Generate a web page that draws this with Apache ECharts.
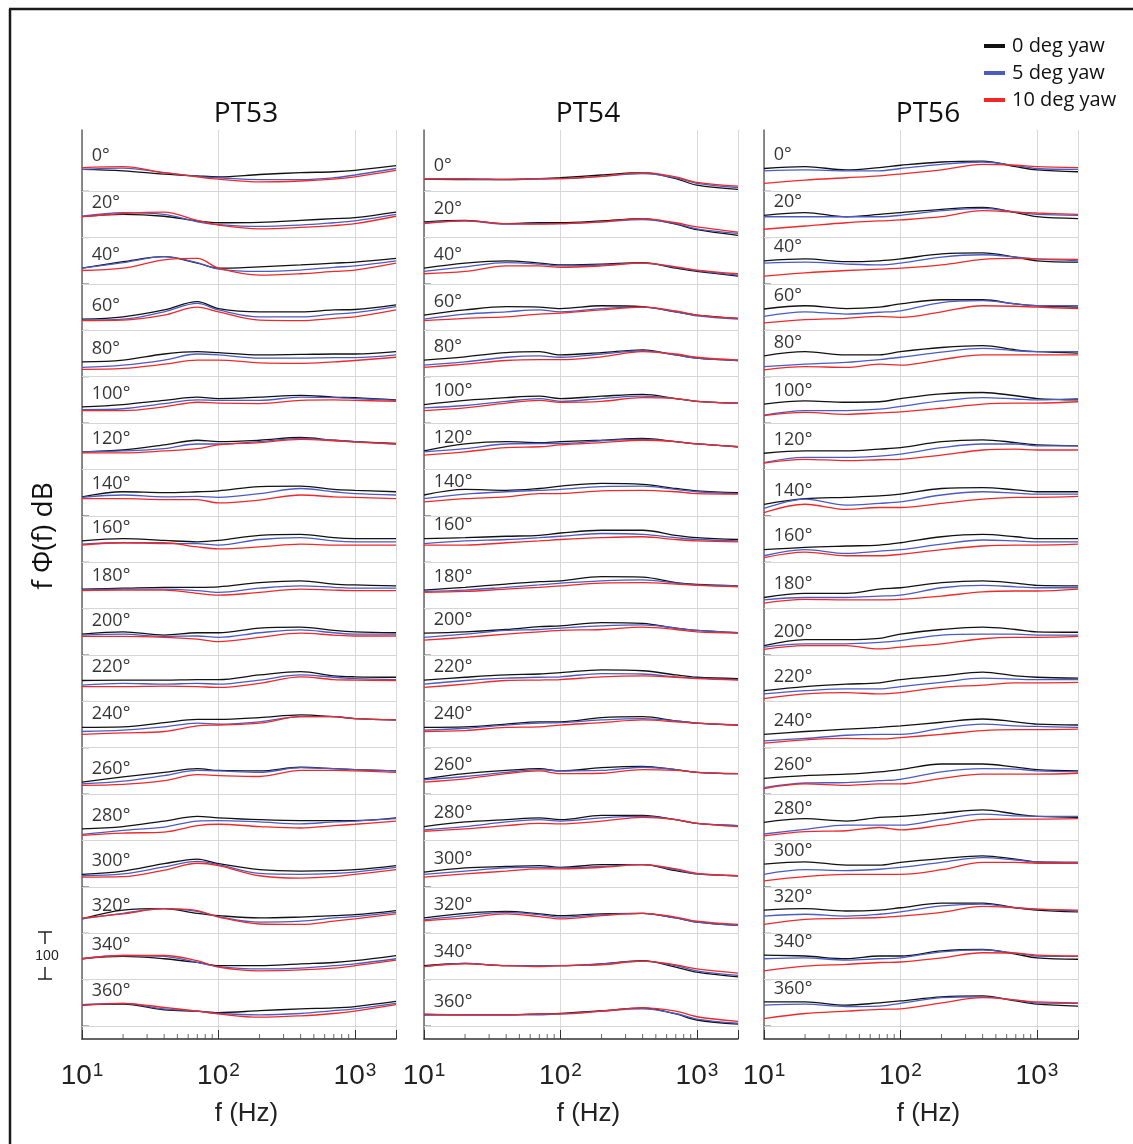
<!DOCTYPE html>
<html>
<head>
<meta charset="utf-8">
<script src="https://cdn.jsdelivr.net/npm/echarts@6/dist/echarts.min.js"></script>
<style>
  html, body { margin: 0; padding: 0; background: #fff; }
  #chart { width: 1133px; height: 1144px; }
</style>
</head>
<body>
<div id="chart"></div>
<script>
// frequency points (Hz) where each spectrum is read
var freqs = [10, 20, 40, 70, 100, 200, 400, 700, 1000, 2000];
// transducer angle of each row, top to bottom
var angles = [0, 20, 40, 60, 80, 100, 120, 140, 160, 180, 200, 220, 240, 260, 280, 300, 320, 340, 360];
var panels = ['PT53', 'PT54', 'PT56'];
var yawNames = ['0 deg yaw', '5 deg yaw', '10 deg yaw'];
var decadeTicks = [10, 100, 1000];
var minorTicks = [20, 30, 40, 50, 60, 70, 80, 90, 200, 300, 400, 500, 600, 700, 800, 900];

// dB above each row's grid line, one row per angle
var pt53_yaw0 = [
  [4.7, 4.4, 3.7, 3.3, 3.1, 3.6, 4.0, 4.2, 4.5, 5.5],
  [4.5, 5.0, 4.6, 3.6, 3.2, 3.3, 3.7, 4.1, 4.3, 5.5],
  [3.4, 4.8, 5.9, 4.5, 3.4, 3.7, 4.1, 4.5, 4.7, 5.5],
  [2.4, 2.9, 4.4, 6.2, 4.7, 4.0, 4.0, 4.4, 4.5, 5.5],
  [3.2, 3.6, 4.9, 5.4, 5.2, 4.7, 4.8, 4.9, 4.9, 5.4],
  [3.5, 4.0, 4.9, 5.6, 5.3, 5.6, 6.0, 5.6, 5.5, 5.0],
  [3.8, 4.2, 5.3, 6.3, 6.0, 6.3, 6.9, 6.3, 6.0, 5.6],
  [4.1, 5.2, 5.0, 5.2, 5.4, 6.3, 6.4, 5.7, 5.5, 5.2],
  [4.6, 5.1, 4.7, 4.4, 4.7, 5.8, 6.0, 5.3, 5.1, 5.1],
  [4.2, 4.4, 4.6, 4.6, 4.7, 5.6, 6.0, 5.3, 5.1, 4.9],
  [4.5, 5.0, 4.3, 4.8, 4.8, 5.8, 6.0, 5.3, 5.0, 4.8],
  [4.5, 4.6, 4.6, 4.7, 4.7, 5.7, 6.4, 5.5, 5.3, 5.2],
  [4.4, 4.5, 5.4, 6.1, 6.1, 6.5, 7.1, 6.7, 6.3, 6.0],
  [2.6, 3.7, 4.7, 5.5, 5.1, 5.0, 5.8, 5.5, 5.3, 5.0],
  [2.5, 3.0, 4.2, 5.2, 4.9, 4.5, 4.3, 4.3, 4.3, 4.9],
  [2.7, 3.4, 5.0, 6.0, 5.0, 3.7, 3.4, 3.5, 3.7, 4.6],
  [3.1, 5.0, 5.3, 4.3, 3.8, 3.3, 3.5, 3.8, 4.0, 4.9],
  [4.5, 5.0, 4.5, 3.7, 3.0, 3.0, 3.4, 3.7, 4.1, 5.2],
  [4.6, 4.7, 3.5, 3.2, 2.9, 3.3, 3.7, 3.9, 4.2, 5.3]
];
var pt53_yaw5 = [
  [4.7, 5.0, 4.0, 3.2, 2.9, 2.5, 2.5, 2.9, 3.5, 4.9],
  [4.6, 5.4, 5.0, 3.4, 2.8, 2.4, 2.7, 3.2, 3.6, 5.0],
  [3.4, 4.6, 5.9, 4.6, 3.2, 2.7, 3.0, 3.6, 3.9, 5.0],
  [2.2, 2.4, 4.0, 5.8, 4.4, 2.9, 2.9, 3.5, 3.8, 5.1],
  [2.0, 2.5, 3.6, 4.9, 4.7, 4.0, 4.0, 4.1, 4.1, 4.7],
  [2.9, 3.1, 4.2, 5.0, 4.9, 4.9, 5.6, 5.5, 5.3, 4.9],
  [3.8, 4.0, 4.5, 5.5, 5.5, 6.0, 6.7, 6.3, 6.0, 5.5],
  [4.0, 4.5, 4.1, 4.2, 4.0, 4.8, 5.9, 5.2, 4.8, 4.5],
  [3.9, 4.2, 4.0, 4.0, 3.7, 4.9, 5.3, 4.6, 4.4, 4.4],
  [4.0, 4.2, 4.2, 3.9, 3.5, 4.4, 4.9, 4.6, 4.4, 4.4],
  [4.3, 4.5, 4.0, 4.1, 3.8, 4.8, 5.4, 4.8, 4.5, 4.5],
  [3.5, 3.9, 3.7, 3.9, 3.7, 4.6, 5.7, 5.2, 4.9, 4.7],
  [3.5, 3.8, 4.5, 5.3, 5.1, 5.6, 6.7, 6.7, 6.3, 6.0],
  [2.2, 2.8, 4.0, 5.1, 5.0, 4.7, 5.7, 5.5, 5.3, 5.0],
  [1.3, 2.2, 2.9, 4.2, 4.3, 4.0, 3.6, 4.0, 4.2, 4.7],
  [2.4, 2.8, 4.3, 5.5, 4.8, 2.9, 2.7, 2.9, 3.2, 4.2],
  [3.1, 4.3, 5.3, 4.7, 3.6, 2.4, 2.6, 3.3, 3.6, 4.5],
  [4.5, 5.2, 5.0, 3.7, 2.8, 2.3, 2.5, 3.0, 3.4, 4.5],
  [4.6, 4.9, 3.7, 3.2, 2.7, 2.4, 2.7, 3.3, 3.7, 4.9]
];
var pt53_yaw10 = [
  [5.1, 5.3, 4.0, 3.1, 2.6, 2.0, 2.2, 2.6, 3.1, 4.5],
  [4.5, 5.2, 5.5, 3.7, 2.7, 1.9, 2.2, 2.6, 3.0, 4.6],
  [2.9, 3.4, 5.2, 5.5, 3.4, 1.9, 2.2, 2.7, 3.0, 4.5],
  [2.1, 2.2, 3.3, 5.0, 4.0, 2.2, 2.1, 2.6, 2.9, 4.4],
  [1.6, 1.8, 2.7, 3.6, 3.6, 3.0, 2.9, 3.2, 3.5, 4.2],
  [2.7, 2.7, 3.5, 4.5, 4.3, 4.2, 4.9, 5.0, 4.9, 4.7],
  [3.6, 3.6, 4.0, 4.5, 5.3, 5.8, 6.5, 6.2, 5.9, 5.5],
  [3.7, 3.7, 3.5, 3.5, 2.8, 3.4, 4.5, 4.1, 4.0, 3.7],
  [3.7, 4.2, 4.2, 3.3, 2.9, 3.3, 3.9, 3.7, 3.7, 3.7],
  [3.9, 4.0, 4.0, 3.3, 2.9, 3.5, 4.2, 4.0, 3.9, 3.9],
  [4.0, 4.0, 3.8, 3.4, 2.9, 3.8, 4.7, 4.3, 4.1, 4.1],
  [3.2, 3.2, 3.3, 3.2, 3.0, 3.9, 5.3, 4.7, 4.6, 4.5],
  [2.9, 3.2, 3.5, 4.7, 4.9, 5.3, 6.7, 6.7, 6.3, 6.0],
  [1.9, 2.1, 2.9, 4.2, 4.0, 3.8, 5.1, 5.1, 5.0, 4.7],
  [1.1, 1.6, 1.8, 3.2, 3.5, 3.0, 2.7, 3.2, 3.5, 4.2],
  [2.1, 2.2, 3.6, 5.1, 4.6, 2.4, 1.9, 2.2, 2.7, 3.7],
  [3.3, 4.2, 5.3, 4.9, 3.5, 2.0, 1.9, 2.6, 3.1, 4.2],
  [4.5, 5.2, 5.2, 4.1, 2.7, 1.9, 2.1, 2.5, 3.0, 4.2],
  [4.4, 4.9, 4.0, 3.2, 2.6, 1.9, 2.2, 2.7, 3.2, 4.6]
];
var pt54_yaw0 = [
  [2.6, 2.5, 2.5, 2.7, 2.9, 3.5, 4.0, 2.7, 1.3, 0.4],
  [3.4, 3.7, 3.0, 3.2, 3.2, 3.6, 4.1, 2.9, 1.7, 0.5],
  [3.4, 4.5, 5.0, 4.5, 4.1, 4.3, 4.6, 3.4, 2.7, 1.7],
  [3.3, 4.4, 5.1, 5.0, 4.7, 5.3, 5.1, 4.0, 3.3, 2.6],
  [3.6, 4.3, 5.2, 5.4, 4.7, 5.2, 5.8, 4.7, 4.0, 3.5],
  [4.0, 4.9, 5.5, 5.8, 5.3, 5.8, 6.2, 5.3, 4.7, 4.3],
  [4.0, 5.5, 6.0, 5.8, 6.0, 6.3, 6.7, 6.0, 5.5, 4.9],
  [4.5, 5.7, 5.5, 5.9, 6.4, 7.0, 6.8, 5.9, 5.4, 5.0],
  [5.1, 5.3, 5.6, 5.8, 6.3, 6.9, 6.9, 5.8, 5.3, 4.9],
  [4.0, 4.6, 5.3, 5.8, 6.0, 6.9, 6.8, 5.6, 5.2, 4.9],
  [4.7, 5.0, 5.5, 6.1, 6.3, 7.0, 6.8, 5.8, 5.3, 4.8],
  [4.6, 5.2, 5.7, 5.9, 6.2, 6.8, 6.6, 5.7, 5.2, 4.9],
  [4.4, 4.5, 5.1, 5.6, 5.6, 6.5, 6.7, 5.8, 5.3, 4.9],
  [3.3, 4.4, 5.1, 5.5, 5.0, 5.7, 6.0, 5.3, 4.7, 4.4],
  [3.0, 4.0, 4.5, 4.9, 4.5, 5.4, 5.4, 4.5, 3.7, 3.2],
  [3.2, 4.1, 4.4, 4.6, 4.2, 4.8, 4.8, 3.5, 2.8, 2.4],
  [3.3, 4.3, 4.7, 4.2, 3.8, 4.2, 4.3, 3.3, 2.4, 1.7],
  [3.0, 3.5, 3.0, 3.0, 3.0, 3.4, 4.1, 2.7, 1.6, 0.6],
  [2.4, 2.4, 2.4, 2.6, 2.7, 3.3, 3.9, 2.6, 1.3, 0.4]
];
var pt54_yaw5 = [
  [2.6, 2.6, 2.5, 2.7, 2.7, 3.2, 3.8, 2.9, 1.7, 0.8],
  [3.2, 3.6, 2.9, 3.0, 3.0, 3.4, 3.9, 3.0, 1.9, 0.9],
  [2.7, 3.7, 4.6, 4.3, 3.9, 4.1, 4.5, 3.6, 2.9, 1.9],
  [2.4, 3.5, 4.0, 4.4, 4.0, 4.7, 5.0, 4.0, 3.1, 2.4],
  [2.5, 3.2, 4.2, 4.5, 4.2, 4.9, 5.6, 4.7, 4.0, 3.5],
  [3.3, 3.8, 4.7, 5.3, 4.7, 5.3, 5.8, 5.3, 4.7, 4.3],
  [3.8, 4.5, 5.5, 5.6, 5.6, 6.2, 6.5, 6.0, 5.5, 4.9],
  [3.7, 4.7, 5.2, 5.5, 5.7, 6.3, 6.4, 5.7, 5.2, 4.8],
  [4.0, 4.6, 4.9, 5.3, 5.6, 6.2, 6.0, 5.3, 4.9, 4.6],
  [3.7, 4.0, 4.6, 5.1, 5.5, 6.0, 6.2, 5.5, 5.1, 4.9],
  [3.8, 4.5, 5.3, 5.5, 5.8, 6.3, 6.5, 5.8, 5.3, 4.8],
  [3.7, 4.5, 5.0, 5.2, 5.3, 6.0, 5.9, 5.3, 5.0, 4.7],
  [3.8, 4.2, 4.9, 5.3, 5.4, 6.0, 6.3, 5.8, 5.3, 4.9],
  [3.1, 3.8, 4.7, 5.3, 5.0, 5.1, 5.8, 5.3, 4.7, 4.4],
  [2.3, 3.0, 4.0, 4.5, 4.2, 4.9, 5.2, 4.5, 3.7, 3.2],
  [2.7, 3.4, 4.1, 4.2, 4.1, 4.4, 4.8, 3.7, 2.8, 2.4],
  [2.9, 3.8, 4.5, 4.0, 3.5, 4.0, 4.3, 3.3, 2.4, 1.7],
  [2.8, 3.5, 3.0, 3.0, 3.0, 3.4, 4.0, 3.0, 1.9, 0.9],
  [2.4, 2.4, 2.4, 2.4, 2.6, 3.2, 3.7, 2.7, 1.5, 0.6]
];
var pt54_yaw10 = [
  [2.7, 2.7, 2.6, 2.6, 2.7, 3.2, 4.0, 3.1, 1.9, 1.1],
  [3.0, 3.6, 3.0, 2.9, 3.0, 3.4, 4.1, 3.2, 2.3, 1.2],
  [2.2, 2.7, 3.9, 3.9, 3.6, 3.9, 4.5, 3.7, 3.0, 2.2],
  [2.1, 2.6, 2.9, 3.5, 3.7, 4.4, 5.0, 4.2, 3.3, 2.6],
  [2.0, 2.7, 3.5, 3.7, 3.7, 4.3, 5.4, 4.9, 4.2, 3.6],
  [2.7, 3.3, 4.3, 4.9, 4.5, 4.7, 5.5, 5.3, 4.7, 4.3],
  [3.1, 3.8, 4.7, 4.9, 5.3, 5.8, 6.3, 6.0, 5.5, 4.9],
  [3.0, 3.7, 4.1, 4.8, 4.8, 5.4, 5.5, 5.2, 4.8, 4.7],
  [3.7, 3.7, 4.2, 4.6, 4.9, 5.3, 5.5, 4.9, 4.6, 4.4],
  [3.5, 3.7, 4.2, 4.6, 4.9, 5.5, 5.6, 5.3, 5.0, 4.7],
  [3.2, 3.8, 4.5, 5.0, 5.3, 5.5, 6.0, 5.5, 5.0, 4.7],
  [3.0, 3.7, 4.5, 4.6, 4.7, 5.3, 5.5, 5.2, 4.9, 4.6],
  [3.5, 3.7, 4.4, 4.5, 4.9, 5.4, 6.0, 5.6, 5.3, 4.9],
  [2.6, 3.3, 4.4, 5.0, 4.4, 4.5, 5.3, 5.1, 4.7, 4.4],
  [2.0, 2.5, 3.2, 3.7, 3.6, 4.2, 5.0, 4.5, 3.7, 3.0],
  [2.1, 2.8, 3.4, 3.9, 3.9, 4.2, 4.8, 3.9, 2.9, 2.4],
  [2.7, 3.3, 4.2, 3.6, 3.1, 3.8, 4.3, 3.5, 2.6, 1.9],
  [2.8, 3.4, 3.0, 2.8, 3.0, 3.2, 4.0, 3.2, 2.3, 1.4],
  [2.6, 2.4, 2.4, 2.6, 2.6, 3.2, 3.9, 3.2, 2.0, 1.0]
];
var pt56_yaw0 = [
  [4.9, 5.3, 4.6, 5.1, 5.6, 6.3, 6.5, 5.3, 4.6, 4.2],
  [4.8, 5.4, 4.5, 5.0, 5.4, 6.1, 6.5, 5.4, 4.5, 4.1],
  [5.0, 5.4, 4.8, 5.0, 5.4, 6.5, 6.7, 5.8, 5.0, 4.7],
  [4.6, 5.3, 4.7, 5.0, 5.7, 6.6, 6.6, 5.7, 5.3, 5.0],
  [4.5, 5.4, 4.7, 4.7, 5.4, 6.3, 6.7, 5.8, 5.4, 5.1],
  [4.1, 4.8, 4.5, 4.6, 5.3, 6.3, 6.6, 5.9, 5.3, 5.0],
  [3.5, 4.0, 4.0, 4.4, 4.7, 6.0, 6.4, 5.8, 5.3, 5.1],
  [2.5, 3.7, 4.0, 4.3, 4.7, 5.9, 6.1, 5.6, 5.2, 5.2],
  [2.7, 3.2, 3.5, 3.7, 4.2, 5.5, 6.0, 5.5, 5.1, 5.1],
  [2.4, 3.3, 3.3, 4.2, 4.5, 5.6, 6.0, 5.5, 5.0, 4.9],
  [2.0, 3.3, 3.3, 3.6, 4.5, 5.5, 6.0, 5.5, 5.0, 4.9],
  [2.3, 3.2, 3.7, 4.0, 4.7, 5.5, 6.3, 5.5, 5.2, 5.0],
  [2.9, 3.5, 4.0, 4.4, 4.7, 5.5, 6.2, 5.6, 5.1, 4.9],
  [3.4, 4.0, 4.3, 4.8, 5.3, 6.5, 6.5, 5.8, 5.3, 5.0],
  [3.9, 4.7, 4.2, 5.0, 5.2, 5.9, 6.6, 5.7, 5.2, 5.0],
  [4.9, 5.4, 4.7, 4.7, 5.3, 6.1, 6.7, 6.0, 5.4, 5.3],
  [5.0, 5.3, 4.8, 5.0, 5.5, 6.5, 6.5, 5.5, 5.0, 4.6],
  [5.3, 5.1, 4.5, 5.1, 5.1, 6.2, 6.5, 5.5, 4.7, 4.4],
  [5.2, 5.2, 4.5, 5.0, 5.4, 6.3, 6.5, 5.4, 4.7, 4.3]
];
var pt56_yaw5 = [
  [4.4, 4.6, 4.4, 4.4, 4.9, 5.8, 6.3, 5.5, 4.9, 4.7],
  [4.5, 4.5, 4.5, 4.5, 4.8, 5.8, 6.3, 5.5, 5.0, 4.8],
  [4.5, 4.7, 4.3, 4.1, 4.5, 5.8, 6.3, 5.8, 5.4, 5.0],
  [3.0, 4.0, 3.5, 3.9, 4.2, 6.0, 6.4, 5.7, 5.3, 5.3],
  [2.2, 2.7, 3.1, 3.7, 4.2, 5.3, 6.1, 5.6, 5.4, 5.4],
  [1.7, 2.7, 2.7, 3.0, 3.6, 4.8, 5.5, 5.2, 5.0, 5.3],
  [1.5, 2.6, 2.6, 2.9, 3.3, 4.7, 5.5, 5.5, 5.1, 5.1],
  [1.6, 3.6, 2.3, 2.7, 3.0, 4.5, 5.2, 4.9, 4.7, 4.7],
  [1.4, 2.7, 1.9, 2.4, 2.7, 3.9, 4.8, 4.6, 4.4, 4.4],
  [1.9, 2.4, 2.4, 2.7, 2.9, 4.5, 5.0, 4.7, 4.5, 4.5],
  [1.7, 2.4, 2.4, 2.7, 3.1, 4.3, 4.5, 4.5, 4.3, 4.3],
  [1.6, 2.3, 2.7, 2.7, 3.2, 4.1, 5.0, 4.8, 4.7, 4.7],
  [1.5, 2.0, 2.7, 2.9, 2.9, 4.2, 5.1, 4.7, 4.6, 4.4],
  [1.4, 2.4, 2.5, 2.9, 3.2, 4.8, 5.5, 5.4, 5.0, 4.8],
  [1.4, 2.4, 3.3, 3.3, 3.3, 4.6, 5.7, 5.3, 5.2, 5.2],
  [2.7, 3.7, 3.5, 3.8, 4.2, 5.3, 6.3, 5.8, 5.4, 5.3],
  [3.7, 4.1, 3.7, 4.1, 4.6, 5.9, 6.3, 5.5, 5.2, 4.8],
  [4.5, 4.7, 4.2, 4.5, 4.7, 6.0, 6.4, 5.7, 5.1, 5.0],
  [4.5, 4.7, 4.2, 4.3, 4.9, 6.1, 6.3, 5.6, 5.0, 4.9]
];
var pt56_yaw10 = [
  [1.7, 2.4, 2.9, 3.3, 3.7, 4.6, 5.8, 5.6, 5.3, 5.1],
  [1.8, 2.5, 3.2, 3.6, 3.8, 4.5, 5.8, 5.5, 5.3, 5.0],
  [1.7, 2.4, 2.9, 3.2, 3.4, 4.1, 5.3, 5.5, 5.4, 5.3],
  [1.6, 2.3, 2.6, 3.0, 2.8, 4.0, 5.3, 5.2, 5.0, 4.7],
  [1.5, 2.2, 2.0, 2.7, 2.5, 3.7, 4.7, 4.7, 4.7, 4.7],
  [1.6, 2.3, 1.9, 2.2, 2.4, 3.2, 4.1, 4.3, 4.3, 4.6],
  [1.4, 2.2, 1.9, 2.1, 2.2, 3.1, 4.2, 4.4, 4.2, 4.2],
  [0.7, 2.5, 1.4, 1.8, 1.8, 2.7, 3.6, 4.0, 4.0, 4.2],
  [1.0, 2.2, 1.4, 1.4, 1.7, 2.7, 3.5, 3.7, 3.7, 3.9],
  [1.2, 2.0, 1.9, 1.9, 2.0, 2.7, 3.6, 3.8, 3.8, 4.2],
  [1.2, 2.0, 2.0, 1.3, 1.7, 2.4, 3.5, 3.8, 3.8, 4.0],
  [0.6, 1.6, 1.9, 1.6, 1.9, 3.0, 3.5, 4.0, 4.0, 4.1],
  [1.0, 1.7, 2.0, 1.9, 2.2, 2.9, 3.7, 3.9, 3.9, 4.0],
  [1.2, 2.2, 1.9, 2.2, 2.2, 3.4, 4.3, 4.3, 4.3, 4.5],
  [1.0, 1.9, 2.1, 2.8, 2.3, 3.3, 4.5, 4.6, 4.6, 4.7],
  [1.3, 2.2, 2.7, 2.7, 2.7, 3.7, 5.3, 5.3, 5.1, 5.1],
  [1.9, 3.0, 3.2, 3.4, 3.7, 4.5, 5.8, 5.5, 5.2, 5.0],
  [1.9, 2.9, 3.3, 3.7, 3.8, 4.7, 5.8, 5.7, 5.3, 5.1],
  [1.6, 2.7, 3.2, 3.6, 3.7, 5.0, 6.1, 5.6, 5.2, 5.0]
];

var panelData = [
  [pt53_yaw0, pt53_yaw5, pt53_yaw10],
  [pt54_yaw0, pt54_yaw5, pt54_yaw10],
  [pt56_yaw0, pt56_yaw5, pt56_yaw10]
];
var yawColors = ['#111111', '#4a5bc4', '#f0282a'];

var ROW_STEP = 10;          // dB between stacked rows
var Y_MIN = -2.8, Y_MAX = 193.2;
var LABEL_F = 11.5;         // where the angle labels start
var gridLefts = [82, 424, 764];

function base(k) { return (angles.length - 1 - k) * ROW_STEP; }

var myChart = echarts.init(document.getElementById('chart'));

var grids = [], xAxes = [], yAxes = [], titles = [], series = [];

panels.forEach(function (p, pi) {
  grids.push({ left: gridLefts[pi], width: 314, top: 130, bottom: 105 });
  titles.push({
    text: p, left: gridLefts[pi] + 159, top: 95, textAlign: 'center',
    textStyle: { fontFamily: 'Open Sans', fontSize: 28, fontWeight: 'normal', color: '#111' }
  });
  xAxes.push({
    type: 'log', logBase: 10, min: 10, max: 2000, gridIndex: pi,
    name: 'f (Hz)', nameLocation: 'middle', nameGap: 62,
    nameTextStyle: { fontFamily: 'Liberation Sans', fontSize: 26, color: '#222', padding: [0, 0, 0, 15] },
    axisLine: { onZero: false, lineStyle: { color: '#333', width: 1.5 } },
    axisTick: { inside: true, length: 9, lineStyle: { color: '#333' } },
    splitLine: { show: true, lineStyle: { color: '#d9d9d9', width: 1 } },
    axisLabel: {
      margin: 22, color: '#222',
      formatter: function (v) {
        if (decadeTicks.indexOf(Math.round(v)) < 0) return '';
        return '{b|10}{s|' + Math.round(Math.log10(v)) + '}';
      },
      rich: {
        b: { fontFamily: 'Liberation Sans', fontSize: 28, color: '#222', lineHeight: 30 },
        s: { fontFamily: 'Liberation Sans', fontSize: 19, color: '#222', verticalAlign: 'top', padding: [0, 0, 0, 1] }
      }
    }
  });
  yAxes.push({
    type: 'value', min: Y_MIN, max: Y_MAX, gridIndex: pi,
    axisLine: { show: true, onZero: false, lineStyle: { color: '#666', width: 1.5 } },
    axisTick: { show: false }, axisLabel: { show: false }, splitLine: { show: false }
  });

  // grid lines under every row + small axis ticks
  var tickData = minorTicks.map(function (f) {
    return { value: [f, Y_MIN], symbolSize: [1, 5], symbolOffset: [0, -2.5] };
  }).concat(angles.map(function (a, k) {
    return { value: [10, base(k)], symbolSize: [7, 1], symbolOffset: [3.5, 0] };
  }));
  series.push({
    type: 'scatter', xAxisIndex: pi, yAxisIndex: pi, silent: true, z: 1,
    symbol: 'rect', itemStyle: { color: '#444' }, data: tickData,
    markLine: {
      silent: true, symbol: ['none', 'none'], animation: false,
      label: { show: false },
      lineStyle: { color: '#d6d6d6', type: 'solid', width: 1 },
      data: angles.map(function (a, k) { return { yAxis: base(k) }; })
    }
  });

  // spectra
  panelData[pi].forEach(function (rows, yi) {
    rows.forEach(function (vals, k) {
      series.push({
        type: 'line', name: yawNames[yi], xAxisIndex: pi, yAxisIndex: pi,
        data: freqs.map(function (f, i) { return [f, vals[i] + base(k)]; }),
        symbol: 'none', smooth: 0.35, silent: true, z: 2 + yi,
        lineStyle: { color: yawColors[yi], width: 1.3 },
        itemStyle: { color: yawColors[yi] }
      });
    });
  });

  // angle labels, sitting just above where the black curve starts
  series.push({
    type: 'scatter', xAxisIndex: pi, yAxisIndex: pi, silent: true, z: 10,
    symbolSize: 1, itemStyle: { color: 'rgba(0,0,0,0)' },
    data: angles.map(function (a, k) {
      return { name: a + '°', value: [LABEL_F, base(k) + panelData[pi][0][k][0] + 2.9] };
    }),
    label: {
      show: true, position: 'right', distance: 1, formatter: '{b}',
      fontFamily: 'Open Sans', fontSize: 18, color: '#000'
    }
  });
});

option = {
  backgroundColor: '#ffffff',
  animation: false,
  title: titles,
  legend: {
    data: yawNames, orient: 'vertical', left: 979, top: 31,
    icon: 'rect', itemWidth: 21, itemHeight: 4, itemGap: 7,
    textStyle: { fontFamily: 'Open Sans', fontSize: 20, color: '#111', padding: [0, 0, 0, 2] }
  },
  grid: grids,
  xAxis: xAxes,
  yAxis: yAxes,
  series: series,
  graphic: [
    // frame
    { type: 'line', shape: { x1: 9, y1: 9, x2: 1133, y2: 9 }, style: { stroke: '#1a1a1a', lineWidth: 2.5 } },
    { type: 'line', shape: { x1: 10, y1: 9, x2: 10, y2: 1144 }, style: { stroke: '#1a1a1a', lineWidth: 2.5 } },
    // y label
    {
      type: 'text', x: 44, y: 536, rotation: Math.PI / 2,
      style: { text: 'f Φ(f) dB', fontFamily: 'Open Sans', fontSize: 28, fill: '#111', textAlign: 'center', textVerticalAlign: 'middle' }
    },
    // 10 dB scale bar
    { type: 'line', shape: { x1: 38, y1: 932, x2: 52, y2: 932 }, style: { stroke: '#222', lineWidth: 1.5 } },
    { type: 'line', shape: { x1: 45, y1: 932, x2: 45, y2: 944 }, style: { stroke: '#222', lineWidth: 1.5 } },
    { type: 'line', shape: { x1: 45, y1: 967, x2: 45, y2: 979 }, style: { stroke: '#222', lineWidth: 1.5 } },
    { type: 'line', shape: { x1: 38, y1: 979, x2: 52, y2: 979 }, style: { stroke: '#222', lineWidth: 1.5 } },
    {
      type: 'text', x: 47, y: 956,
      style: { text: '100', fontFamily: 'Liberation Sans', fontSize: 14, fill: '#222', textAlign: 'center', textVerticalAlign: 'middle' }
    }
  ]
};

myChart.setOption(option);
</script>
</body>
</html>
